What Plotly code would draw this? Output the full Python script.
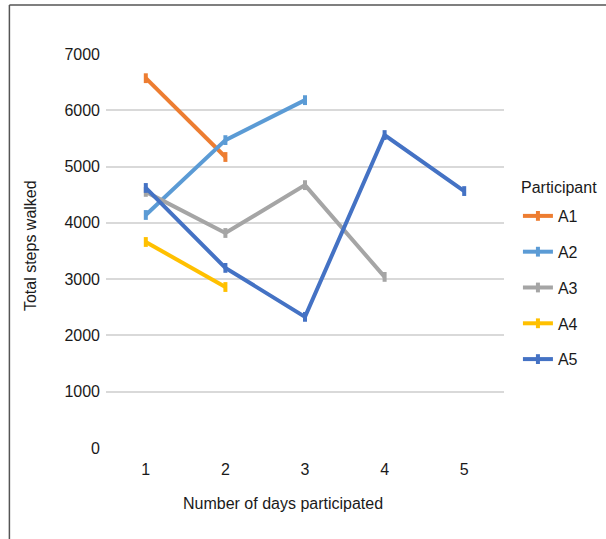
import plotly.graph_objects as go

# Daily step totals per participant, by day of participation
days = [1, 2, 3, 4, 5]
participants = ["A1", "A2", "A3", "A4", "A5"]
a1_steps = [6570, 5170]
a2_steps = [4140, 5470, 6180]
a3_steps = [4550, 3820, 4670, 3040]
a4_steps = [3660, 2860]
a5_steps = [4620, 3200, 2330, 5560, 4565]
y_ticks = [0, 1000, 2000, 3000, 4000, 5000, 6000, 7000]

series = [a1_steps, a2_steps, a3_steps, a4_steps, a5_steps]
colors = ["#ED7D31", "#5B9BD5", "#A5A5A5", "#FFC000", "#4472C4"]

FONT = "Liberation Sans, Arial, Helvetica, sans-serif"
TXT = "#1a1a1a"
FS = 16

fig = go.Figure()
for name, vals, col in zip(participants, series, colors):
    fig.add_trace(go.Scatter(
        x=days[:len(vals)], y=vals, name=name, mode="lines+markers",
        legendgroup=name,
        line=dict(color=col, width=4),
        marker=dict(symbol="line-ns-open", size=7, color=col,
                    line=dict(color=col, width=4)),
    ))

fig.update_layout(
    width=606, height=539,
    margin=dict(l=106, r=102, t=54, b=91),
    paper_bgcolor="white", plot_bgcolor="white",
    font=dict(family=FONT, size=FS, color=TXT),
    showlegend=True,
    legend=dict(
        x=1.035, xanchor="left", y=0.632, yanchor="top",
        font=dict(size=FS, color=TXT), tracegroupgap=12,
        bgcolor="rgba(0,0,0,0)",
    ),
    xaxis=dict(
        range=[0.5, 5.5], tickmode="array", tickvals=days,
        showgrid=False, zeroline=False, showline=False, ticks="",
        ticklabelstandoff=10,
    ),
    yaxis=dict(
        range=[0, 7000], tickmode="array", tickvals=y_ticks,
        showgrid=True, gridcolor="#D9D9D9", gridwidth=1.5,
        zeroline=False, showline=False, ticks="", ticklen=0,
        ticklabelstandoff=5,
    ),
    annotations=[
        dict(text="Participant", xref="paper", yref="paper",
             x=1.038, y=0.66, xanchor="left", yanchor="middle",
             showarrow=False, font=dict(size=FS, color=TXT)),
        dict(text="Number of days participated", xref="paper", yref="paper",
             x=0.445, y=-0.14, xanchor="center", yanchor="middle",
             showarrow=False, font=dict(size=FS, color=TXT)),
        dict(text="Total steps walked", xref="paper", yref="paper",
             x=-0.191, y=0.515, xanchor="center", yanchor="middle",
             textangle=-90, showarrow=False, font=dict(size=FS, color=TXT)),
    ],
    shapes=[
        dict(type="line", xref="paper", yref="paper",
             x0=-0.2427, x1=1.3, y0=1.1245, y1=1.1245,
             line=dict(color="#555555", width=1.5)),
        dict(type="line", xref="paper", yref="paper",
             x0=-0.2427, x1=-0.2427, y0=1.1245, y1=-0.3,
             line=dict(color="#555555", width=1.5)),
    ],
)

fig.write_html("out.html")
